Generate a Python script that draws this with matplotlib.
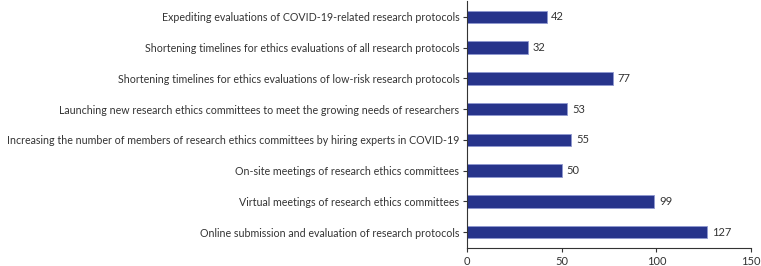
import matplotlib
matplotlib.use("Agg")
import matplotlib.pyplot as plt

categories = [
    "Expediting evaluations of COVID-19-related research protocols",
    "Shortening timelines for ethics evaluations of all research protocols",
    "Shortening timelines for ethics evaluations of low-risk research protocols",
    "Launching new research ethics committees to meet the growing needs of researchers",
    "Increasing the number of members of research ethics committees by hiring experts in COVID-19",
    "On-site meetings of research ethics committees",
    "Virtual meetings of research ethics committees",
    "Online submission and evaluation of research protocols",
]
values = [42, 32, 77, 53, 55, 50, 99, 127]
xticks = [0, 50, 100, 150]

plt.rcParams['font.family'] = ['Lato', 'DejaVu Sans']
fig = plt.figure(figsize=(7.61, 2.66), dpi=100)
ax = fig.add_axes([467/761, 1 - 248/266, (751-467)/761, 247/266])

n = len(categories)
ypos = [n - 1 - i for i in range(n)]
ax.barh(ypos, values, height=0.41, color='#27348b', edgecolor='#8f98d0', linewidth=0.6)
for y, v in zip(ypos, values):
    ax.text(v + 2.5, y, str(v), va='center', ha='left', fontsize=8, color='#333333')

ax.set_yticks(ypos)
ax.set_yticklabels(categories, fontsize=7.7, color='#333333')
ax.set_xticks(xticks)
ax.set_xticklabels([str(t) for t in xticks], fontsize=8, color='#333333')
ax.set_xlim(0, 150)
ax.set_ylim(-0.52, n - 0.48)
for s in ['top', 'right']:
    ax.spines[s].set_visible(False)
for s in ['left', 'bottom']:
    ax.spines[s].set_color('#333333')
    ax.spines[s].set_linewidth(0.8)
ax.tick_params(axis='both', length=3, width=0.8, color='#333333', pad=2.5)

fig.savefig("out.png", dpi=100)
